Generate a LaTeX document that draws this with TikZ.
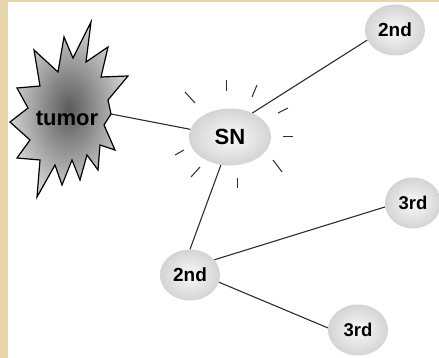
\documentclass[tikz,border=0pt]{standalone}
\usepackage{fontspec}
\setmainfont{Liberation Sans}
\usetikzlibrary{shapes.geometric}
\definecolor{beige}{HTML}{E8D4AA}
\definecolor{lineg}{HTML}{2E2E2E}
\definecolor{tumin}{HTML}{5A5A5A}
\definecolor{tumout}{HTML}{D2D2D2}
\tikzset{
  lymph/.style={ellipse, draw=none, shading=radial, inner color=white!96!gray, outer color=gray!34,
    minimum width=60pt, minimum height=51pt, inner sep=0pt, font=\fontsize{19}{19}\selectfont\bfseries},
  conn/.style={draw=lineg, line width=1.1pt},
  ray/.style={draw=lineg, line width=1pt},
}
\begin{document}
\begin{tikzpicture}[x=1pt,y=-1pt]
\useasboundingbox (0,0) rectangle (439,358);
\fill[beige] (0,0) rectangle (439,358);
\fill[white] (8,2) rectangle (439,358);
% tumor star
\path[draw=black, line width=1.2pt, line join=miter, shading=radial, inner color=tumin, outer color=tumout]
  (91,22) -- (86,62) -- (108,47) -- (101,77) -- (128,76) -- (108,100) -- (111,114) coordinate (tumorout)
  -- (104,125) -- (115,150) -- (100,145) -- (98,170) -- (87,155) -- (80,180) -- (72,160)
  -- (62,185) -- (55,165) -- (37,197) -- (40,160) -- (17,158) -- (30,140) -- (10,122)
  -- (28,108) -- (17,88) -- (40,86) -- (34,50) -- (58,72) -- (64,37) -- (73,58) -- cycle;
\node[font=\fontsize{22}{22}\selectfont\bfseries, inner sep=0pt] (tumor) at (67,118) {tumor};
% lymph nodes
\node[lymph, minimum width=82pt, minimum height=57pt, font=\fontsize{22}{22}\selectfont\bfseries] (sn) at (230,137) {SN};
\node[lymph] (sa) at (395,30) {2nd};
\node[lymph] (sb) at (190,275) {2nd};
\node[lymph, minimum width=56pt, font=\fontsize{18.5}{18.5}\selectfont\bfseries] (ta) at (413,203) {3rd};
\node[lymph, font=\fontsize{18.5}{18.5}\selectfont\bfseries] (tb) at (358,330) {3rd};
% connectors
\draw[conn] (tumorout) -- (sn);
\draw[conn] (sn.47) -- (sa.200);
\draw[conn] (sn.252) -- (sb.90);
\draw[conn] (sb.32) -- (ta.188);
\draw[conn] (sb.346) -- (tb.176);
% rays
\draw[ray] (185,92) -- (195,103);
\draw[ray] (226,80) -- (226,91);
\draw[ray] (257,85) -- (252,97);
\draw[ray] (278,113) -- (288,108);
\draw[ray] (283,137) -- (293,137);
\draw[ray] (273,160) -- (282,172);
\draw[ray] (237,178) -- (237,188);
\draw[ray] (200,167) -- (191,177);
\draw[ray] (184,150) -- (175,155);
\end{tikzpicture}
\end{document}
